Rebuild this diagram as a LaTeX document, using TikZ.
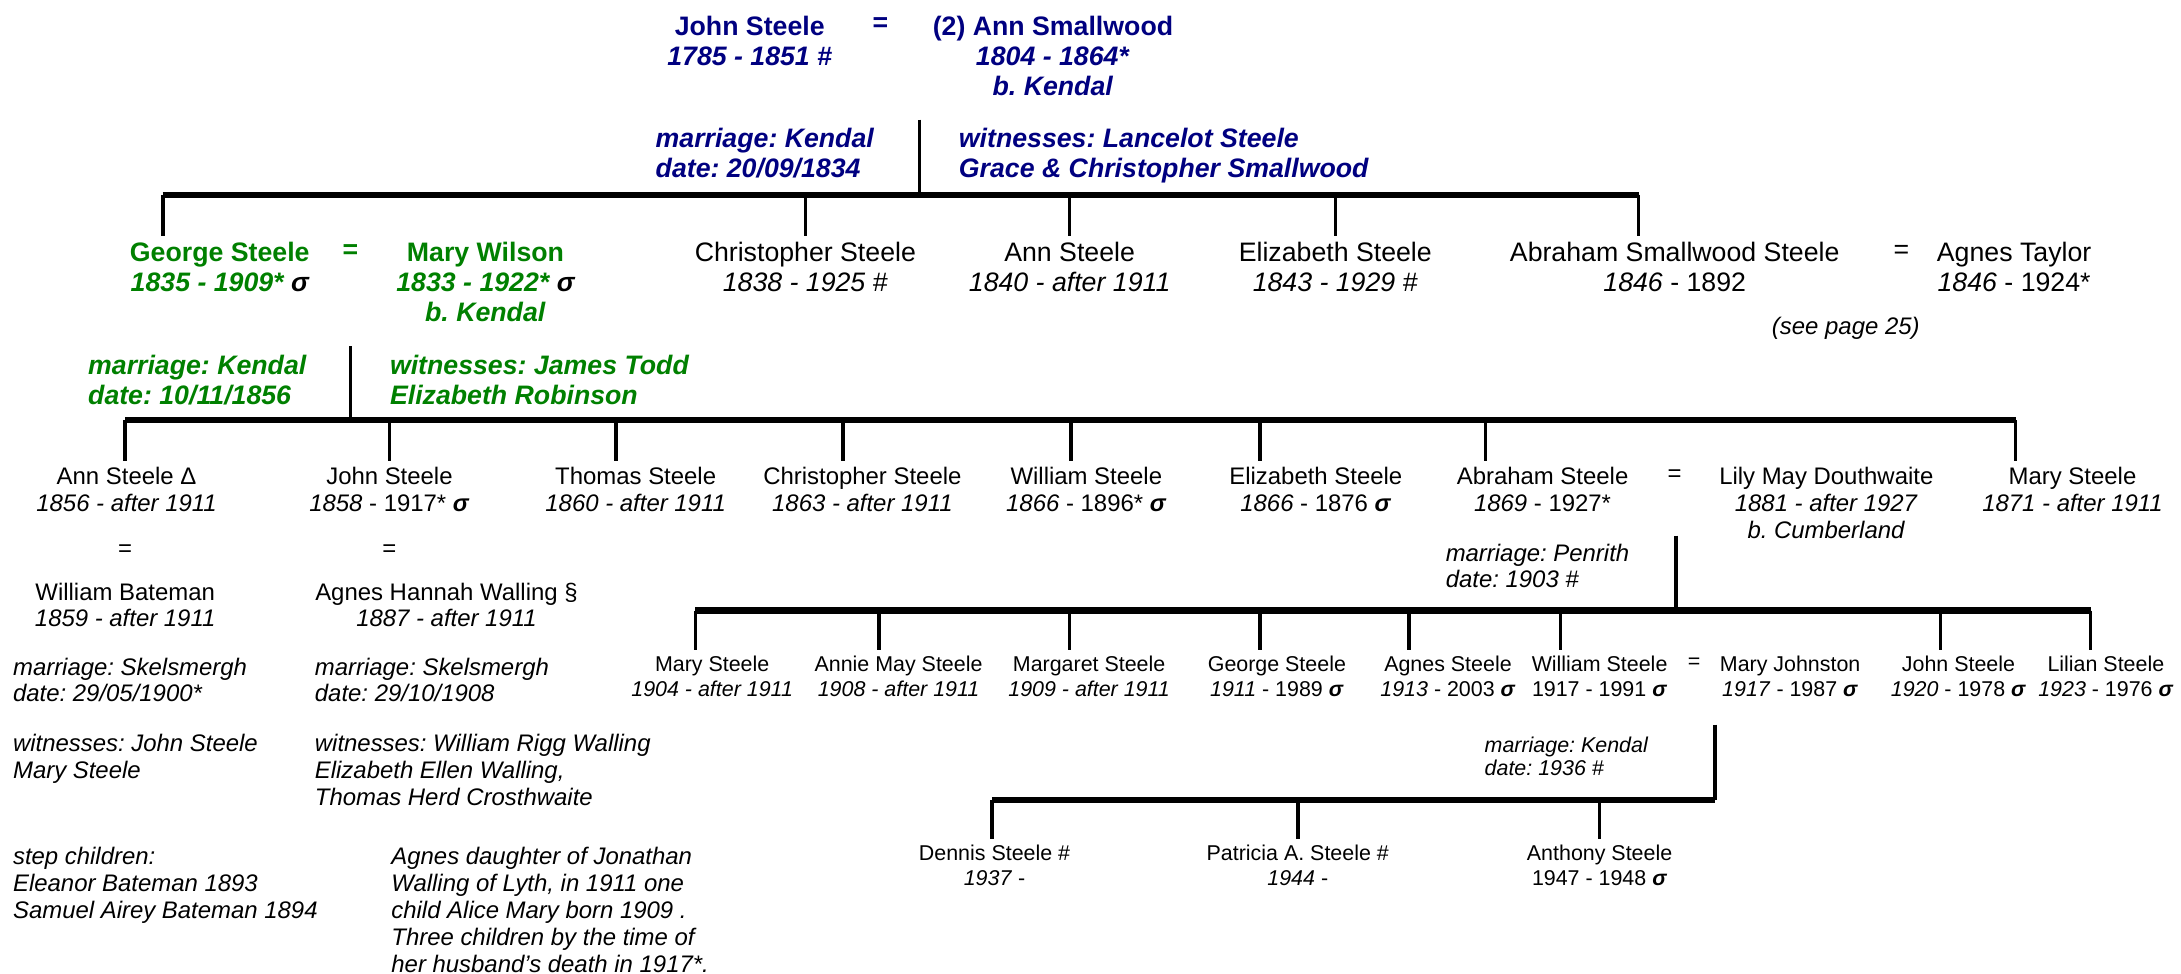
\documentclass[tikz,border=0pt]{standalone}
\usepackage{fontspec}
\setmainfont{Liberation Sans}
\usetikzlibrary{calc}
\definecolor{navyblue}{RGB}{0,0,128}
\definecolor{leafgreen}{RGB}{0,128,0}
\newcommand{\sigmark}{\textcolor{black}{\textbf{\textit{σ}}}}
\newcommand{\genbig}{\fontsize{9.6}{10.75}\selectfont}
\newcommand{\genmid}{\fontsize{8.6}{9.6}\selectfont}
\newcommand{\gensmall}{\fontsize{7.7}{9}\selectfont}
\frenchspacing

\begin{document}
\begin{tikzpicture}[x=0.5pt,y=-0.5pt,
	person/.style={anchor=north,align=center,inner xsep=0pt,inner ysep=2pt},
	note/.style={anchor=north west,align=left,inner xsep=0pt,inner ysep=2pt},
	eq/.style={anchor=center,inner sep=0pt},
	bar/.style={line width=2.3pt},
	drop/.style={line width=1.3pt}]
	\useasboundingbox (0,0) rectangle (1568,700);

	% John Steele and Ann Smallwood
	\begin{scope}[navyblue,font=\genbig\bfseries]
		\node[person] (js1) at (539,7) {John Steele\\\textit{1785 - 1851 \#}};
		\node[eq] (eq1) at (633,18) {=};
		\node[person] (as1) at (757,7) {(2) Ann Smallwood\\\textit{1804 - 1864*}\\\textit{b. Kendal}};
		\node[note,font=\genbig\bfseries\itshape] (mar1) at (471,88) {marriage: Kendal\\date: 20/09/1834};
		\node[note,font=\genbig\bfseries\itshape] (wit1) at (689,88) {witnesses: Lancelot Steele\\Grace \& Christopher Smallwood};
	\end{scope}

	% their children
	\begin{scope}[leafgreen,font=\genbig\bfseries]
		\node[person] (gs2) at (158,170) {George Steele\\\textit{1835 - 1909* \sigmark}};
		\node[eq] (eq2) at (252,181) {=};
		\node[person] (mw2) at (349,170) {Mary Wilson\\\textit{1833 - 1922* \sigmark}\\\textit{b. Kendal}};
		\node[note,font=\genbig\bfseries\itshape] (mar2) at (63,251) {marriage: Kendal\\date: 10/11/1856};
		\node[note,font=\genbig\bfseries\itshape] (wit2) at (280,251) {witnesses: James Todd\\Elizabeth Robinson};
	\end{scope}
	\begin{scope}[font=\genbig]
		\node[person] (cs2) at (579,170) {Christopher Steele\\\textit{1838 - 1925 \#}};
		\node[person] (an2) at (769,170) {Ann Steele\\\textit{1840 - after 1911}};
		\node[person] (es2) at (960,170) {Elizabeth Steele\\\textit{1843 - 1929 \#}};
		\node[person] (ab2) at (1204,170) {Abraham Smallwood Steele\\\textit{1846} - 1892};
		\node[eq] (eq2b) at (1367,181) {=};
		\node[person] (at2) at (1448,170) {Agnes Taylor\\\textit{1846} - 1924*};
	\end{scope}
	\node[person,font=\genmid\itshape] (sp2) at (1327,223.6) {(see page 25)};

	% children of George and Mary
	\begin{scope}[font=\genmid]
		\node[person] (an3) at (91,331.6) {Ann Steele Δ\\\textit{1856 - after 1911}};
		\node[person] (jn3) at (280,331.6) {John Steele\\\textit{1858} - 1917* \sigmark};
		\node[person] (th3) at (457,331.6) {Thomas Steele\\\textit{1860 - after 1911}};
		\node[person] (ch3) at (620,331.6) {Christopher Steele\\\textit{1863 - after 1911}};
		\node[person] (wi3) at (781,331.6) {William Steele\\\textit{1866} - 1896* \sigmark};
		\node[person] (el3) at (946,331.6) {Elizabeth Steele\\\textit{1866} - 1876 \sigmark};
		\node[person] (ab3) at (1109,331.6) {Abraham Steele\\\textit{1869} - 1927*};
		\node[eq] (eq3) at (1204,342) {=};
		\node[person] (ly3) at (1313,331.6) {Lily May Douthwaite\\\textit{1881 - after 1927}\\\textit{b. Cumberland}};
		\node[person] (ms3) at (1490,331.6) {Mary Steele\\\textit{1871 - after 1911}};
		\node[eq] (eqa3) at (90,396) {=};
		\node[person] (wb3) at (90,414.6) {William Bateman\\\textit{1859 - after 1911}};
		\node[eq] (eqj3) at (280,396) {=};
		\node[person] (ah3) at (321,414.6) {Agnes Hannah Walling §\\\textit{1887 - after 1911}};
	\end{scope}
	\begin{scope}[font=\genmid\itshape]
		\node[note] (nma3) at (9,468.6) {marriage: Skelsmergh\\date: 29/05/1900*};
		\node[note] (nmj3) at (226,468.6) {marriage: Skelsmergh\\date: 29/10/1908};
		\node[note] (nwa3) at (9,523.6) {witnesses: John Steele\\Mary Steele};
		\node[note] (nwj3) at (226,523.6) {witnesses: William Rigg Walling\\Elizabeth Ellen Walling,\\Thomas Herd Crosthwaite};
		\node[note,font=\fontsize{8.6}{9.75}\selectfont\itshape] (nsa3) at (9,604.6) {step children:\\Eleanor Bateman 1893\\Samuel Airey Bateman 1894};
		\node[note,font=\fontsize{8.6}{9.75}\selectfont\itshape] (nsj3) at (281,604.6) {Agnes daughter of Jonathan\\Walling of Lyth, in 1911 one\\child Alice Mary born 1909 .\\Three children by the time of\\her husband’s death in 1917*.};
		\node[note] (mar3) at (1039,386.6) {marriage: Penrith\\date: 1903 \#};
	\end{scope}

	% children of Abraham and Lily May
	\begin{scope}[font=\gensmall]
		\node[person] (ms4) at (512,467.3) {Mary Steele\\\textit{1904 - after 1911}};
		\node[person] (am4) at (646,467.3) {Annie May Steele\\\textit{1908 - after 1911}};
		\node[person] (mg4) at (783,467.3) {Margaret Steele\\\textit{1909 - after 1911}};
		\node[person] (gs4) at (918,467.3) {George Steele\\\textit{1911} - 1989 \sigmark};
		\node[person] (ag4) at (1041,467.3) {Agnes Steele\\\textit{1913} - 2003 \sigmark};
		\node[person] (ws4) at (1150,467.3) {William Steele\\1917 - 1991 \sigmark};
		\node[eq] (eq4) at (1218,477) {=};
		\node[person] (mj4) at (1287,467.3) {Mary Johnston\\\textit{1917} - 1987 \sigmark};
		\node[person] (jn4) at (1408,467.3) {John Steele\\\textit{1920} - 1978 \sigmark};
		\node[person] (ls4) at (1514,467.3) {Lilian Steele\\\textit{1923} - 1976 \sigmark};
		\node[note,font=\fontsize{7.7}{8.4}\selectfont\itshape] (mar4) at (1067,525.3) {marriage: Kendal\\date: 1936 \#};
		\node[person] (ds5) at (715,603.3) {Dennis Steele \#\\\textit{1937} -};
		\node[person] (pa5) at (933,603.3) {Patricia A. Steele \#\\\textit{1944} -};
		\node[person] (an5) at (1150,603.3) {Anthony Steele\\1947 - 1948 \sigmark};
	\end{scope}

	% family lines
	\coordinate (m1) at (661,86);
	\coordinate (b1L) at (117,140);
	\coordinate (b1R) at (1178,140);
	\draw[drop] (m1) -- (m1 |- b1L);
	\draw[bar] (b1L) -- (b1R);
	\foreach \c/\x in {gs2/117,cs2/579,an2/769,es2/960,ab2/1178}
		\draw[drop] (\x,0 |- b1L) -- (\x,0 |- \c.north);

	\coordinate (m2) at (252,249);
	\coordinate (b2L) at (90,302);
	\coordinate (b2R) at (1449,302);
	\draw[drop] (m2) -- (m2 |- b2L);
	\draw[bar] (b2L) -- (b2R);
	\foreach \c/\x in {an3/90,jn3/280,th3/443,ch3/606,wi3/770,el3/906,ab3/1068,ms3/1449}
		\draw[drop] (\x,0 |- b2L) -- (\x,0 |- \c.north);

	\coordinate (m3) at (1205,385);
	\coordinate (b3L) at (500,439);
	\coordinate (b3R) at (1503,439);
	\draw[drop] (m3) -- (m3 |- b3L);
	\draw[bar] (b3L) -- (b3R);
	\foreach \c/\x in {ms4/500,am4/632,mg4/769,gs4/906,ag4/1013,ws4/1122,jn4/1395,ls4/1503}
		\draw[drop] (\x,0 |- b3L) -- (\x,0 |- \c.north);

	\coordinate (m4) at (1233,521);
	\coordinate (b4L) at (713,575);
	\coordinate (b4R) at (1233,575);
	\draw[drop] (m4) -- (m4 |- b4L);
	\draw[bar] (b4L) -- (b4R);
	\foreach \c/\x in {ds5/713,pa5/933,an5/1150}
		\draw[drop] (\x,0 |- b4L) -- (\x,0 |- \c.north);
\end{tikzpicture}
\end{document}
